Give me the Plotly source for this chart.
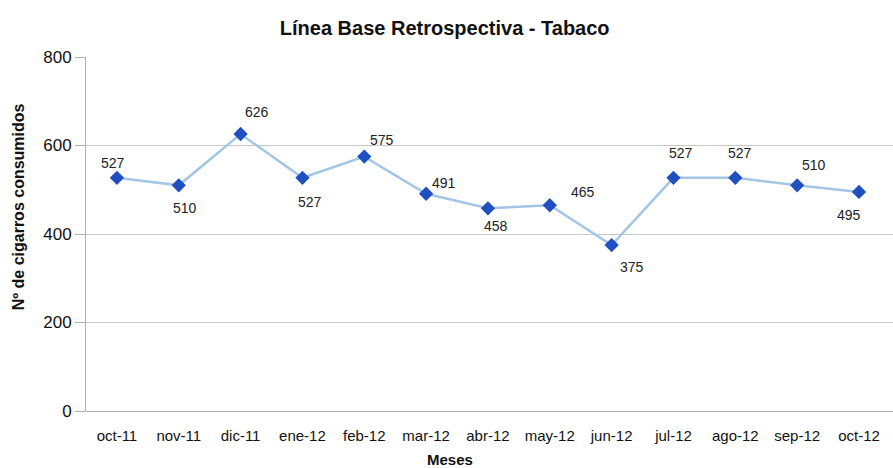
import plotly.graph_objects as go

# Monthly cigarette counts (retrospective baseline)
meses = ["oct-11", "nov-11", "dic-11", "ene-12", "feb-12", "mar-12", "abr-12",
         "may-12", "jun-12", "jul-12", "ago-12", "sep-12", "oct-12"]
cigarros = [527, 510, 626, 527, 575, 491, 458, 465, 375, 527, 527, 510, 495]

y_ticks = [0, 200, 400, 600, 800]

# Pixel offsets of each data label relative to its marker
label_dx = [-4, 6, 16, 8, 18, 18, 8, 33, 20, 8, 5, 17, -10]
label_dy = [15, -23, 22, -24, 17, 11, -18, 13, -22, 25, 25, 20, -23]

narrow = "Liberation Sans Narrow, Arial Narrow, Liberation Sans, Arial, sans-serif"
bold_font = "Liberation Sans, Arial, sans-serif"

fig = go.Figure()
fig.add_trace(go.Scatter(
    x=meses, y=cigarros, mode="lines+markers",
    line=dict(color="#a4c6e6", width=2.5),
    marker=dict(symbol="diamond", size=11, color="#1f4fc0",
                line=dict(width=0)),
    hoverinfo="x+y", showlegend=False,
))

for m, v, dx, dy in zip(meses, cigarros, label_dx, label_dy):
    fig.add_annotation(x=m, y=v, text=str(v), showarrow=False,
                       xshift=dx, yshift=dy,
                       font=dict(family=narrow, size=14, color="#222222"))

# Axis titles placed as paper annotations
fig.add_annotation(text="<b>Nº de cigarros consumidos</b>", showarrow=False,
                   xref="paper", yref="paper", x=-0.084, y=0.576,
                   xanchor="center", yanchor="middle", textangle=-90,
                   font=dict(family=bold_font, size=16, color="#111111"))
fig.add_annotation(text="<b>Meses</b>", showarrow=False,
                   xref="paper", yref="paper", x=0.451, y=-0.137,
                   xanchor="center", yanchor="middle",
                   font=dict(family=bold_font, size=15, color="#111111"))

fig.update_layout(
    width=893, height=468,
    margin=dict(l=86, r=0, t=57, b=57),
    paper_bgcolor="white", plot_bgcolor="white",
    title=dict(text="<b>Línea Base Retrospectiva - Tabaco</b>",
               x=0.498, xanchor="center", y=0.94, yanchor="middle",
               font=dict(family=narrow, size=20, color="#111111")),
    xaxis=dict(
        tickfont=dict(family=narrow, size=15, color="#111111"),
        showgrid=False, showline=False,
        ticks="outside", ticklen=11, tickcolor="rgba(0,0,0,0)",
        range=[-0.5, 12.55],
    ),
    yaxis=dict(
        range=[0, 800], tickvals=y_ticks,
        tickfont=dict(family=narrow, size=17, color="#111111"),
        showgrid=True, gridcolor="#c8c8c8", gridwidth=1,
        showline=True, linecolor="#b0b0b0", linewidth=1,
        ticks="outside", ticklen=10, tickcolor="#b0b0b0",
        zeroline=True, zerolinecolor="#b0b0b0", zerolinewidth=1,
    ),
)

fig.write_html("out.html")
